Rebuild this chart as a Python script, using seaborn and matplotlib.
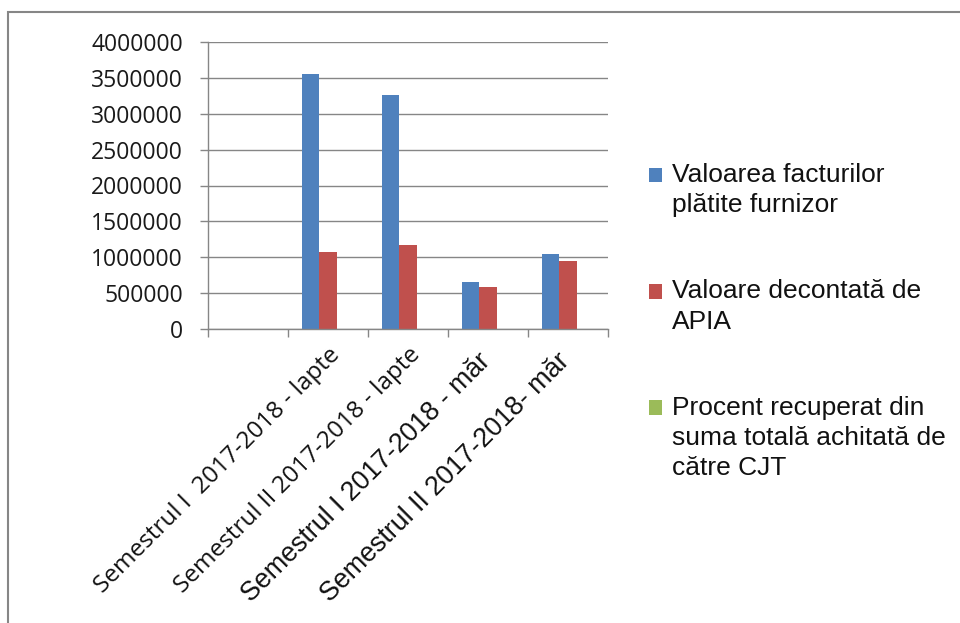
import numpy as np
import pandas as pd
import seaborn as sns
import matplotlib.pyplot as plt
from matplotlib.patches import Rectangle
from matplotlib.legend_handler import HandlerPatch
from matplotlib.font_manager import FontProperties
from matplotlib.ticker import FixedLocator, FuncFormatter
from matplotlib.transforms import ScaledTranslation

# Data (first category has no label and no values)
categories = ["", "Semestrul I  2017-2018 - lapte", "Semestrul II 2017-2018 - lapte",
              "Semestrul I 2017-2018 - măr", "Semestrul II 2017-2018- măr"]
facturi = [np.nan, 3560000, 3260000, 650000, 1050000]
decontat = [np.nan, 1080000, 1170000, 590000, 950000]
procent = [np.nan, 30, 36, 91, 90]
series = ["Valoarea facturilor\nplătite furnizor",
          "Valoare decontată de\nAPIA",
          "Procent recuperat din\nsuma totală achitată de\ncătre CJT"]
colors = ["#4F81BD", "#C0504D", "#9BBB59"]
yticks = [0, 500000, 1000000, 1500000, 2000000, 2500000, 3000000, 3500000, 4000000]

GRAY = "#868686"

df = pd.DataFrame({"cat": categories, series[0]: facturi,
                   series[1]: decontat, series[2]: procent})
df = df.melt(id_vars="cat", var_name="serie", value_name="val")

sns.set_theme(style="white")
plt.rcParams["font.family"] = ["Open Sans", "DejaVu Sans"]

fig = plt.figure(figsize=(9.6, 6.23), dpi=100)
ax = fig.add_axes([208 / 960, 1 - 329 / 623, 400 / 960, 287 / 623])

sns.barplot(data=df, x="cat", y="val", hue="serie", order=categories,
            hue_order=series, palette=colors, saturation=1, width=0.66,
            linewidth=0, errorbar=None, ax=ax)

ax.set_ylim(0, 4000000)
ax.set_xlim(-0.5, 4.5)
ax.yaxis.set_major_locator(FixedLocator(yticks))
ax.yaxis.set_major_formatter(FuncFormatter(lambda v, p: f"{int(v)}"))
ax.grid(axis="y", color=GRAY, linewidth=1)
ax.set_axisbelow(True)
ax.set_xlabel("")
ax.set_ylabel("")
for s in ["top", "right"]:
    ax.spines[s].set_visible(False)
for s in ["left", "bottom"]:
    ax.spines[s].set_color(GRAY)
    ax.spines[s].set_linewidth(1)

ax.tick_params(axis="y", length=6, color=GRAY, width=1, pad=12, labelsize=16.5,
               left=True)
for t in ax.get_yticklabels():
    t.set_color("#1a1a1a")

ax.set_xticks(range(len(categories)))
ax.set_xticklabels(categories, rotation=45, ha="right", rotation_mode="anchor",
                   color="#111111")
ax.set_xticks(np.arange(-0.5, len(categories), 1), minor=True)
ax.tick_params(axis="x", which="major", length=0, pad=10, bottom=True)
ax.tick_params(axis="x", which="minor", length=6, color=GRAY, width=1, bottom=True)
nudge = ScaledTranslation(-11 / 100, -5 / 100, fig.dpi_scale_trans)
for i, t in enumerate(ax.get_xticklabels()):
    if i >= 3:
        # the two "măr" labels use a different, larger font in the original
        t.set_fontfamily("Liberation Sans")
        t.set_fontsize(19.3)
        t.set_transform(t.get_transform() + nudge)
    else:
        t.set_fontsize(17.5)

# legend: square sitting next to the first line of each entry
fs_leg = 19
line_ls = 1.33
rend = fig.canvas.get_renderer()
_, lp_h, lp_d = rend.get_text_width_height_descent(
    "lp", FontProperties(family="Liberation Sans", size=fs_leg), ismath=False)
step = ((lp_h - lp_d) * line_ls + lp_d) * 72 / fig.dpi

handles, labels = ax.get_legend_handles_labels()
ax.get_legend().remove()
nlines = {id(h): lab.count("\n") for h, lab in zip(handles, labels)}


def square(legend, orig_handle, xdescent, ydescent, width, height, fontsize):
    # multi-line labels are centred on the handle, move it up to line one
    shift = nlines.get(id(orig_handle), 0) * step / 2
    return Rectangle((-xdescent, -ydescent + shift), width, height)


leg = fig.legend(handles, labels, loc="upper left",
                 bbox_to_anchor=(649 / 960, 1 - 163 / 623), frameon=False,
                 prop=FontProperties(family="Liberation Sans", size=fs_leg),
                 handlelength=0.48, handleheight=0.48, handletextpad=0.4,
                 labelspacing=2.35, borderpad=0, borderaxespad=0,
                 handler_map={Rectangle: HandlerPatch(patch_func=square)})
for t in leg.get_texts():
    t.set_linespacing(line_ls)
    t.set_color("#111111")

# outer chart frame (only left and top edges visible)
fig.patches.append(Rectangle((8 / 960, -0.1), 1.2, (623 - 12) / 623 + 0.1,
                             transform=fig.transFigure, fill=False,
                             edgecolor=GRAY, linewidth=1.5))

fig.savefig("out.png", dpi=100)
